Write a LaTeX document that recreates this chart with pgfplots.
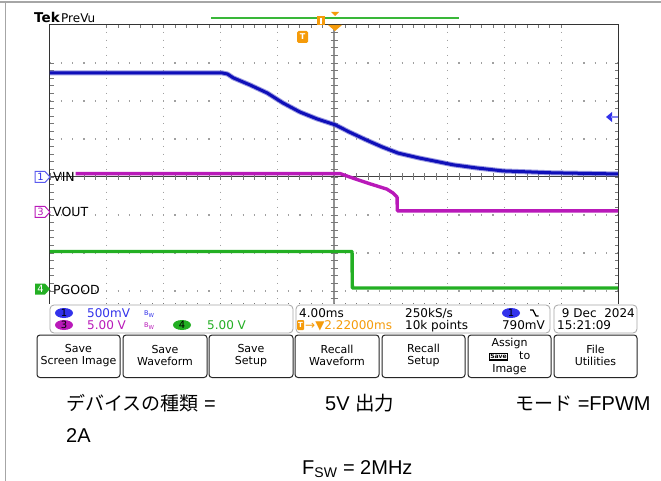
\documentclass[border=0pt]{standalone}
\usepackage{pgfplots}
\pgfplotsset{compat=1.18}
\usepackage{fontspec}
\setmainfont{DejaVu Sans}
\newfontfamily\jp{Noto Sans CJK JP}
\newfontfamily\ar{Liberation Sans}
\definecolor{ch1}{RGB}{15,15,185}
\definecolor{ch1t}{RGB}{50,50,235}
\definecolor{ch3}{RGB}{185,25,185}
\definecolor{ch4}{RGB}{35,175,35}
\definecolor{tekor}{RGB}{245,155,10}
\definecolor{grd}{RGB}{120,120,120}
\begin{document}
\begin{tikzpicture}
\begin{scope}[x=1pt,y=-1pt]
 \path[use as bounding box] (0,0) rectangle (661,481);
 \fill[white] (0,0) rectangle (661,481);
 \draw[gray!70, line width=2pt] (0,2.5) -- (661,2.5);
 \draw[gray!70, line width=1pt] (5,2) -- (5,481);
 % graticule dotted lines
 \foreach \i in {1,2,3,4,6,7,8,9} {
   \draw[grd!70, line width=1.2pt, dash pattern=on 1.2pt off 6.4pt, dash phase=0.6pt] (50+56.8*\i,25) -- (50+56.8*\i,306);
 }
 \foreach \j in {1,2,3,5,6,7} {
   \draw[grd!70, line width=1.2pt, dash pattern=on 1.2pt off 10.16pt, dash phase=0.6pt] (50,25+38*\j) -- (618,25+38*\j);
 }
 % centre cross lines with ticks
 \draw[grd!80, line width=1.4pt] (334,25) -- (334,306);
 \foreach \k in {0,...,36} { \draw[grd, line width=0.9pt] (330.5,25+7.6*\k) -- (337.5,25+7.6*\k); }
 \draw[black!75, line width=1pt] (50,177) -- (618,177);
 \foreach \k in {0,...,50} { \draw[grd, line width=0.9pt] (50+11.36*\k,173.5) -- (50+11.36*\k,180.5); }
\end{scope}
\begin{axis}[
  at={(50pt,-25pt)}, anchor=north west,
  width=568pt, height=281.2pt, scale only axis,
  xmin=-20, xmax=20, ymin=-3.4, ymax=4,
  axis line style={black!80, line width=1pt},
  xtick={-16,-12,...,16}, ytick={-3,...,3},
  minor x tick num=4, minor y tick num=4,
  xticklabels={}, yticklabels={},
  tick align=inside, major tick length=3.5pt, minor tick length=3.5pt,
  tick style={grd, line width=0.9pt},
]
\addplot[ch1!70, line width=5pt, line join=round, opacity=0.6] coordinates {
 (-20,2.74) (-7.9,2.74) (-7.5,2.71) (-7.1,2.61) (-5.9,2.42) (-4.7,2.21) (-3.6,1.95) (-2.4,1.71) (-1.2,1.53) (0.1,1.37) (1.1,1.18) (2.3,0.97) (3.4,0.79) (4.5,0.63) (6.0,0.50) (8.4,0.32) (10.0,0.24) (11.9,0.16) (15.4,0.11) (20,0.08)};
\addplot[ch1, line width=3pt, line join=round] coordinates {
 (-20,2.74) (-7.9,2.74) (-7.5,2.71) (-7.1,2.61) (-5.9,2.42) (-4.7,2.21) (-3.6,1.95) (-2.4,1.71) (-1.2,1.53) (0.1,1.37) (1.1,1.18) (2.3,0.97) (3.4,0.79) (4.5,0.63) (6.0,0.50) (8.4,0.32) (10.0,0.24) (11.9,0.16) (15.4,0.11) (20,0.08)};
\addplot[ch3, line width=3.4pt, line join=round] coordinates {
 (-18.2,0.09) (0.42,0.09) (1.34,-0.03) (2.54,-0.18) (3.73,-0.32) (4.15,-0.42) (4.44,-0.53) (4.46,-0.89) (20,-0.89)};
\addplot[ch4, line width=3.4pt, line join=round] coordinates {
 (-20,-1.96) (1.27,-1.96) (1.29,-2.92) (20,-2.92)};
\end{axis}
\begin{scope}[x=1pt,y=-1pt]
 % top labels
 \node[anchor=base west, inner sep=0pt, font=\bfseries\fontsize{13.5}{13.5}\selectfont] at (34,23) {Tek};
 \node[anchor=base west, inner sep=0pt, font=\fontsize{12}{12}\selectfont] at (61,23) {PreVu};
 \draw[ch4!90!white, line width=1.2pt] (211,18) -- (459,18);
 \fill[tekor] (317,16) rectangle (325,25);
 \fill[white] (320,18) rectangle (322,24);
 \fill[tekor] (331,12) -- (339,12) -- (335,16) -- cycle;
 \fill[tekor] (328,25) -- (342,25) -- (335,31) -- cycle;
 \fill[tekor, rounded corners=1.5pt] (297,31) rectangle (308,43);
 \node[white, font=\bfseries\fontsize{8}{8}\selectfont, inner sep=0pt] at (302.5,37) {T};
 % ch1 offset arrow right
 \fill[ch1t] (606,117) -- (612,112) -- (612,122) -- cycle;
 \draw[ch1t!60, line width=2pt] (611,117) -- (618,117);
 % channel markers
 \draw[ch1t!80, line width=1pt, fill=white] (35,171.5) -- (45,171.5) -- (50,177) -- (45,182.5) -- (35,182.5) -- cycle;
 \node[ch1t, font=\fontsize{10}{10}\selectfont, inner sep=0pt] at (40.5,177) {1};
 \node[anchor=base west, inner sep=0pt, font=\fontsize{12.5}{12.5}\selectfont] at (53,181.5) {VIN};
 \draw[ch3, line width=1pt, fill=white] (35,206.5) -- (45,206.5) -- (50,212) -- (45,217.5) -- (35,217.5) -- cycle;
 \node[ch3, font=\fontsize{10}{10}\selectfont, inner sep=0pt] at (40.5,212) {3};
 \node[anchor=base west, inner sep=0pt, font=\fontsize{12.5}{12.5}\selectfont] at (53,216.5) {VOUT};
 \fill[ch4] (35,283.5) -- (45,283.5) -- (50,289) -- (45,294.5) -- (35,294.5) -- cycle;
 \node[white, font=\fontsize{10}{10}\selectfont, inner sep=0pt] at (40.5,289) {4};
 \node[anchor=base west, inner sep=0pt, font=\fontsize{12.5}{12.5}\selectfont] at (53,294) {PGOOD};
 % readout panels
 \fill[white] (36,304) rectangle (640,334);
 \draw[gray!70, line width=0.8pt, rounded corners=4pt] (50,305) rectangle (293,333);
 \draw[gray!70, line width=0.8pt, rounded corners=4pt] (296,305) rectangle (550,333);
 \draw[gray!70, line width=0.8pt, rounded corners=4pt] (554,305) rectangle (637,333);
 \begin{scope}[font=\fontsize{12}{12}\selectfont]
  \fill[ch1t] (64,313) ellipse [x radius=9, y radius=5];
  \node[inner sep=0pt, font=\fontsize{10}{10}\selectfont] at (64,313) {1};
  \node[ch1t, anchor=base west, inner sep=0pt] at (87,317) {500mV};
  \fill[ch3] (64,325) ellipse [x radius=9, y radius=5];
  \node[inner sep=0pt, font=\fontsize{10}{10}\selectfont] at (64,325) {3};
  \node[ch3, anchor=base west, inner sep=0pt] at (87,329) {5.00 V};
  \fill[ch4] (182,325) ellipse [x radius=9, y radius=5];
  \node[inner sep=0pt, font=\fontsize{10}{10}\selectfont] at (182,325) {4};
  \node[ch4, anchor=base west, inner sep=0pt] at (207,329) {5.00 V};
  \node[ch1t, anchor=base west, inner sep=0pt, font=\fontsize{6.5}{6.5}\selectfont] at (144,315) {B\raisebox{-2pt}{\fontsize{5.5}{5.5}\selectfont W}};
  \node[ch3, anchor=base west, inner sep=0pt, font=\fontsize{6.5}{6.5}\selectfont] at (144,327) {B\raisebox{-2pt}{\fontsize{5.5}{5.5}\selectfont W}};
  \node[anchor=base west, inner sep=0pt] at (299,317) {4.00ms};
  \node[anchor=base west, inner sep=0pt] at (405,317) {250kS/s};
  \fill[ch1t] (511,313) ellipse [x radius=9, y radius=5];
  \node[inner sep=0pt, font=\fontsize{10}{10}\selectfont] at (511,313) {1};
  \draw[black, line width=1.2pt] (530,310) -- (533,310) -- (536,316) -- (538.5,316);
  \fill[tekor, rounded corners=1pt] (297,320) rectangle (304,330);
  \node[white, inner sep=0pt, font=\bfseries\fontsize{7}{7}\selectfont] at (300.5,325) {T};
  \node[tekor, anchor=base west, inner sep=0pt] at (305,329) {→▼2.22000ms};
  \node[anchor=base west, inner sep=0pt] at (405,329) {10k points};
  \node[anchor=base east, inner sep=0pt] at (545,329) {790mV};
  \node[anchor=base east, inner sep=0pt] at (635,317) {9 Dec\ \ 2024};
  \node[anchor=base west, inner sep=0pt] at (557,329) {15:21:09};
 \end{scope}
 % buttons
 \begin{scope}[font=\fontsize{11}{12.5}\selectfont]
  \foreach \a/\b/\t in {37/120/{Save\\Screen Image}, 123/207/{Save\\Waveform}, 209/293/{Save\\Setup}, 295/379/{Recall\\Waveform}, 382/465/{Recall\\Setup}, 554/637/{File\\Utilities}} {
    \draw[black!85, line width=1pt, rounded corners=3pt] (\a,335) rectangle (\b,377.5);
    \node[align=center, inner sep=0pt, anchor=center] at ({(\a+\b)/2},355.5) {\t};
  }
  \draw[black!85, line width=1pt, rounded corners=3pt] (468,335) rectangle (551,377.5);
  \node[anchor=base, inner sep=0pt] at (509.5,346) {Assign};
  \node[anchor=base, inner sep=0pt] at (509.5,359) {\hphantom{Save}\ to};
  \node[draw, line width=0.5pt, inner sep=0.6pt, font=\bfseries\fontsize{6}{6}\selectfont, anchor=base] at (498.5,358) {\underline{Save}};
  \node[anchor=base, inner sep=0pt] at (509.5,372) {Image};
 \end{scope}
 % bottom text
 \node[anchor=base west, inner sep=0pt] at (66,410) {{\jp\fontsize{19}{19}\selectfont デバイスの種類}{\ar\fontsize{20}{20}\selectfont\ =}};
 \node[anchor=base west, inner sep=0pt] at (325,410) {{\ar\fontsize{20}{20}\selectfont 5V }{\jp\fontsize{19.5}{19.5}\selectfont 出力}};
 \node[anchor=base west, inner sep=0pt] at (515,410) {{\jp\fontsize{19}{19}\selectfont モード}{\ar\fontsize{20}{20}\selectfont\ =FPWM}};
 \node[anchor=base west, inner sep=0pt] at (66,442) {\ar\fontsize{20}{20}\selectfont 2A};
 \node[anchor=base west, inner sep=0pt] at (302,474) {\ar\fontsize{20}{20}\selectfont F\textsubscript{SW} = 2MHz};
\end{scope}
\end{tikzpicture}
\end{document}
